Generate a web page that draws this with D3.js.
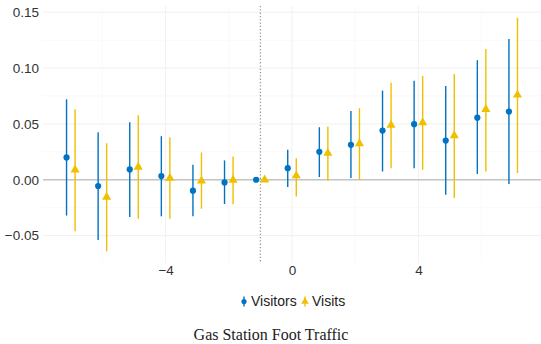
<!DOCTYPE html>
<html>
<head>
<meta charset="utf-8">
<script src="https://cdn.jsdelivr.net/npm/d3@7"></script>
<style>
  body { margin: 0; background: #fff; }
  svg { display: block; }
</style>
</head>
<body>
<div id="chart"></div>
<script>
// event-time periods relative to treatment
var periods = [-7, -6, -5, -4, -3, -2, -1, 0, 1, 2, 3, 4, 5, 6, 7];

var visitorsEst = [0.020, -0.0056, 0.0092, 0.0033, -0.0098, -0.0024, 0, 0.0104, 0.025, 0.0313, 0.044, 0.0497, 0.0351, 0.0556, 0.061];
var visitorsLo = [-0.032, -0.054, -0.0333, -0.0327, -0.0327, -0.0217, 0, -0.0065, 0.0024, 0.0015, 0.0074, 0.0104, -0.0134, 0.0051, -0.0039];
var visitorsHi = [0.072, 0.0426, 0.0515, 0.039, 0.0134, 0.0173, 0, 0.0268, 0.047, 0.0616, 0.0798, 0.0887, 0.0839, 0.107, 0.126];

var visitsEst = [0.0089, -0.0155, 0.0113, 0.0015, -0.001, -0.0003, 0, 0.0036, 0.0238, 0.0324, 0.0488, 0.0512, 0.0396, 0.0631, 0.0759];
var visitsLo = [-0.046, -0.064, -0.035, -0.035, -0.026, -0.022, 0, -0.0149, -0.0009, 0.0, 0.0104, 0.0089, -0.0164, 0.0074, 0.006];
var visitsHi = [0.063, 0.0327, 0.0577, 0.038, 0.0244, 0.0208, 0, 0.0193, 0.0476, 0.064, 0.0869, 0.0929, 0.0946, 0.117, 0.145];

var xTicks = [-4, 0, 4];
var xMinor = [-6, -2, 2, 6];
var yTicks = [-0.05, 0, 0.05, 0.10, 0.15];
var yMinor = [-0.025, 0.025, 0.075, 0.125];

var seriesNames = ['Visitors', 'Visits'];
var colors = { Visitors: '#0073C2', Visits: '#EFC000' };
var refPeriod = -1;
var title = 'Gas Station Foot Traffic';

// params
var width = 541;
var height = 344;
var panel = { left: 43, right: 541, top: 6, bottom: 263 };
var dodge = 0.135;

var svg = d3.select('#chart').append('svg')
  .attr('width', width)
  .attr('height', height);

var x = d3.scaleLinear().domain([-7.88, 7.88]).range([panel.left, panel.right]);
var y = d3.scaleLinear().domain([-0.0745, 0.1555]).range([panel.bottom, panel.top]);

// grid
var grid = svg.append('g');
grid.selectAll('line.ymin').data(yMinor).enter().append('line')
  .attr('x1', panel.left).attr('x2', panel.right)
  .attr('y1', d => y(d)).attr('y2', d => y(d))
  .attr('stroke', '#f7f7f7').attr('stroke-width', 0.8);
grid.selectAll('line.xmin').data(xMinor).enter().append('line')
  .attr('y1', panel.top).attr('y2', panel.bottom)
  .attr('x1', d => x(d)).attr('x2', d => x(d))
  .attr('stroke', '#f7f7f7').attr('stroke-width', 0.8);
grid.selectAll('line.ymaj').data(yTicks).enter().append('line')
  .attr('x1', panel.left).attr('x2', panel.right)
  .attr('y1', d => y(d)).attr('y2', d => y(d))
  .attr('stroke', '#f0f0f0').attr('stroke-width', 1);
grid.selectAll('line.xmaj').data(xTicks).enter().append('line')
  .attr('y1', panel.top).attr('y2', panel.bottom)
  .attr('x1', d => x(d)).attr('x2', d => x(d))
  .attr('stroke', '#f0f0f0').attr('stroke-width', 1);

// zero line
svg.append('line')
  .attr('x1', panel.left).attr('x2', panel.right)
  .attr('y1', y(0)).attr('y2', y(0))
  .attr('stroke', '#c4c4c4').attr('stroke-width', 1.6);

// reference period
svg.append('line')
  .attr('x1', x(refPeriod)).attr('x2', x(refPeriod))
  .attr('y1', panel.top).attr('y2', panel.bottom)
  .attr('stroke', '#9a9a9a').attr('stroke-width', 1.3)
  .attr('stroke-dasharray', '1.3,2');

// axes
var yAxis = svg.append('g')
  .attr('transform', `translate(${panel.left},0)`)
  .call(d3.axisLeft(y).tickValues(yTicks).tickFormat(d3.format('.2f')).tickSize(0).tickPadding(4));
var xAxis = svg.append('g')
  .attr('transform', `translate(0,${panel.bottom})`)
  .call(d3.axisBottom(x).tickValues(xTicks).tickFormat(d3.format('d')).tickSize(0).tickPadding(2));
[yAxis, xAxis].forEach(function(ax) {
  ax.select('.domain').remove();
  ax.selectAll('text')
    .attr('fill', '#333')
    .style('font-family', '"Liberation Sans", Arial, sans-serif')
    .style('font-size', '13.5px');
});

// series data
var series = [
  { name: 'Visitors', off: -dodge, est: visitorsEst, lo: visitorsLo, hi: visitorsHi },
  { name: 'Visits', off: dodge, est: visitsEst, lo: visitsLo, hi: visitsHi }
];

var tri = d3.symbol().type(d3.symbolTriangle).size(36);

series.forEach(function(s) {
  var rows = periods.map((p, i) => ({ p: p, est: s.est[i], lo: s.lo[i], hi: s.hi[i] }));
  var g = svg.append('g');
  g.selectAll('line').data(rows.filter(d => d.hi !== d.lo)).enter().append('line')
    .attr('x1', d => x(d.p + s.off)).attr('x2', d => x(d.p + s.off))
    .attr('y1', d => y(d.lo)).attr('y2', d => y(d.hi))
    .attr('stroke', colors[s.name]).attr('stroke-width', 1.4);
  if (s.name === 'Visitors') {
    g.selectAll('circle').data(rows).enter().append('circle')
      .attr('cx', d => x(d.p + s.off)).attr('cy', d => y(d.est))
      .attr('r', 3.1).attr('fill', colors[s.name]);
  } else {
    g.selectAll('path').data(rows).enter().append('path')
      .attr('d', tri)
      .attr('transform', d => `translate(${x(d.p + s.off)},${y(d.est)})`)
      .attr('fill', colors[s.name]);
  }
});

// legend
var legend = svg.append('g').attr('transform', 'translate(244,301.5)');
var legendX = [0, 61];
seriesNames.forEach(function(name, i) {
  var lg = legend.append('g').attr('transform', `translate(${legendX[i]},0)`);
  lg.append('line').attr('y1', -5).attr('y2', 5)
    .attr('stroke', colors[name]).attr('stroke-width', 1.4);
  if (i === 0) {
    lg.append('circle').attr('r', 2.6).attr('fill', colors[name]);
  } else {
    lg.append('path').attr('d', d3.symbol().type(d3.symbolTriangle).size(24)).attr('fill', colors[name]);
  }
  lg.append('text').attr('x', 7).attr('dy', '0.35em')
    .attr('fill', '#222')
    .style('font-family', '"Liberation Sans", Arial, sans-serif')
    .style('font-size', '14px')
    .text(name);
});

// caption
svg.append('text')
  .attr('x', 271).attr('y', 340)
  .attr('text-anchor', 'middle')
  .attr('fill', '#222')
  .style('font-family', '"Liberation Serif", "Times New Roman", serif')
  .style('font-size', '16px')
  .text(title);
</script>
</body>
</html>
